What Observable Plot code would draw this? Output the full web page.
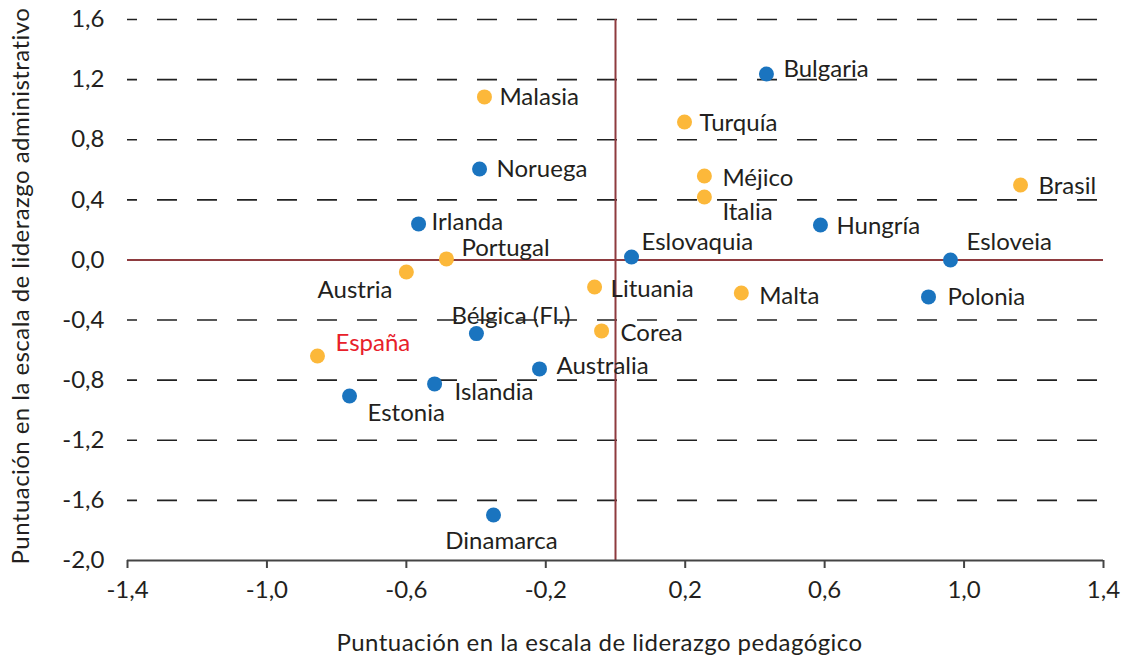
<!DOCTYPE html>
<html><head><meta charset="utf-8">
<script src="https://cdn.jsdelivr.net/npm/d3@7"></script>
<script src="https://cdn.jsdelivr.net/npm/@observablehq/plot@0.6"></script>
<style>
body{margin:0;background:#fff;}
</style>
</head><body><div id="chart"></div>
<script>
// ---- data ----
const countries = ["Bulgaria","Malasia","Turquía","Noruega","Méjico","Brasil","Italia","Irlanda","Hungría","Portugal","Eslovaquia","Esloveia","Austria","Lituania","Malta","Polonia","Corea","Bélgica (Fl.)","España","Australia","Islandia","Estonia","Dinamarca"];
const pedagogico = [0.433,-0.376,0.198,-0.39,0.255,1.162,0.255,-0.565,0.588,-0.485,0.046,0.961,-0.60,-0.06,0.361,0.898,-0.04,-0.399,-0.855,-0.218,-0.519,-0.763,-0.35];
const administrativo = [1.237,1.085,0.918,0.605,0.559,0.499,0.419,0.24,0.233,0.007,0.02,0.0,-0.08,-0.18,-0.22,-0.246,-0.472,-0.49,-0.639,-0.725,-0.825,-0.905,-1.697];
const grupo = ["A","B","B","A","B","B","B","A","A","B","A","A","B","B","B","A","B","A","B","A","A","A","A"];
const xTicks = [-1.4,-1.0,-0.6,-0.2,0.2,0.6,1.0,1.4];
const yTicks = [-2.0,-1.6,-1.2,-0.8,-0.4,0.0,0.4,0.8,1.2,1.6];
const xTitle = "Puntuación en la escala de liderazgo pedagógico";
const yTitle = "Puntuación en la escala de liderazgo administrativo";
const highlight = "España";

// ---- label placement (style, kept separate from data) ----
const place = {
  "Bulgaria":[17,-5,"start"], "Malasia":[15,0,"start"], "Turquía":[15,1,"start"],
  "Noruega":[17,0,"start"], "Méjico":[18,2,"start"], "Brasil":[18,1,"start"],
  "Italia":[18,15,"start"], "Irlanda":[13,-2,"start"], "Hungría":[16,1,"start"],
  "Portugal":[15,-11,"start"], "Eslovaquia":[10,-15,"start"], "Esloveia":[16,-18,"start"],
  "Austria":[-14,18,"end"], "Lituania":[16,2,"start"], "Malta":[18,3,"start"],
  "Polonia":[19,0,"start"], "Corea":[19,2,"start"], "Bélgica (Fl.)":[-25,-17,"start"],
  "España":[18,-13,"start"], "Australia":[17,-3,"start"], "Islandia":[20,8,"start"],
  "Estonia":[18,17,"start"], "Dinamarca":[8,26,"middle"]
};

const data = countries.map((c,i)=>({pais:c, x:pedagogico[i], y:administrativo[i], g:grupo[i]}));
const fmt = d => d.toFixed(1).replace(".", ",");
const FS = 24;

const labelMarks = data.map(d => {
  const p = place[d.pais];
  return Plot.text([d], {x:"x", y:"y", text:"pais", dx:p[0], dy:p[1], textAnchor:p[2],
    fill: d.pais === highlight ? "#e8202a" : "#231f20", fontSize: FS});
});

const plot = Plot.plot({
  width: 1125, height: 659,
  marginLeft: 127, marginRight: 22, marginTop: 19, marginBottom: 99,
  style: {fontFamily: "Lato, 'Noto Sans', sans-serif", fontSize: FS + "px", color: "#231f20", background: "#fff"},
  x: {domain: [-1.4, 1.4]},
  y: {domain: [-2.0, 1.6]},
  color: {domain: ["A","B"], range: ["#1a74bf","#fcb83a"]},
  marks: [
    Plot.ruleY(yTicks.filter(v => v !== 0 && v !== -2), {stroke:"#222", strokeWidth:1.6, strokeDasharray:"20,20", strokeDashoffset:10}),
    Plot.ruleY([0], {stroke:"#8e3b3f", strokeWidth:2}),
    Plot.ruleX([0], {stroke:"#8e3b3f", strokeWidth:2}),
    Plot.ruleY([-2.0], {stroke:"#444", strokeWidth:2}),
    Plot.axisX({ticks: xTicks, tickFormat: fmt, tickSize: 8, tickPadding: 12, stroke:"#444", strokeWidth: 2,
      fontSize: FS, label: null}),
    Plot.axisX({ticks: [], label: xTitle, labelAnchor: "center", labelOffset: 90, labelArrow: false,
      fontSize: FS}),
    Plot.axisY({ticks: yTicks, tickFormat: fmt, tickSize: 0, tickPadding: 23,
      fontSize: FS, label: null}),
    Plot.axisY({ticks: [], label: yTitle, labelAnchor: "center", labelOffset: 116, labelArrow: false,
      fontSize: FS}),
    Plot.dot(data, {x:"x", y:"y", fill:"g", r:7.5}),
    ...labelMarks
  ]
});
const svg = d3.select(plot);
svg.selectAll('[aria-label="x-axis label"], [aria-label="y-axis label"]').style("letter-spacing", "0.45px");
svg.selectAll('[aria-label="x-axis label"]').each(function() {
  const t = this.getAttribute("transform") || "";
  this.setAttribute("transform", "translate(-16,0) " + t);
});
svg.selectAll('[aria-label="y-axis label"]').each(function() {
  const t = this.getAttribute("transform") || "";
  this.setAttribute("transform", "translate(0,-4) " + t);
});
document.getElementById("chart").appendChild(plot);
</script>
</body></html>
